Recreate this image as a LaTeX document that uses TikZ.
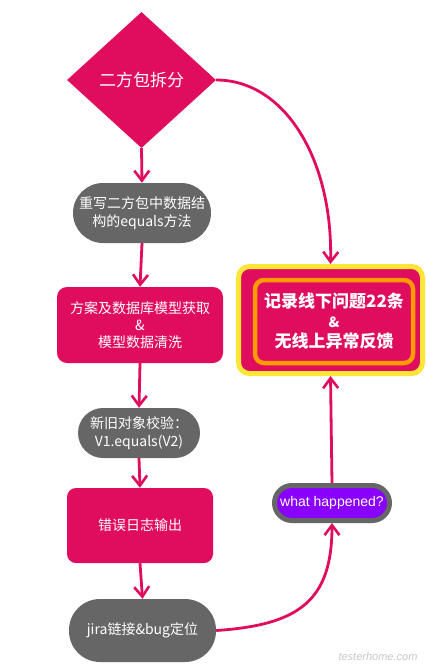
\documentclass[tikz,border=0pt]{standalone}
\usepackage{fontspec}
\setmainfont{Noto Sans CJK SC}
\newfontfamily\latinf{Liberation Sans}
\usetikzlibrary{arrows.meta,shapes.geometric}
\definecolor{mag}{HTML}{E00D5F}
\definecolor{grayc}{HTML}{666666}
\definecolor{purp}{HTML}{8A00FF}
\definecolor{yel}{HTML}{FFE535}
\definecolor{orng}{HTML}{FF9A00}
\tikzset{
  txt/.style={text=white, align=center, inner sep=0pt},
  graynode/.style={txt, fill=grayc, font=\fontsize{14}{18}\selectfont},
  pinknode/.style={txt, fill=mag, font=\fontsize{14}{17}\selectfont},
  flow/.style={draw=mag, line width=2.8pt, -{Straight Barb[length=10pt,width=15pt,line width=2.6pt]}},
}
\begin{document}
\begin{tikzpicture}[x=1pt,y=-1pt]
\useasboundingbox[fill=white] (0,0) rectangle (426,672);

\node[diamond, fill=mag, txt, aspect=1.1, minimum width=149pt, minimum height=136pt,
  font=\fontsize{17}{20}\selectfont] (d) at (141.5,80) {二方包拆分};

\node[graynode, minimum width=138pt, minimum height=60pt, rounded corners=30pt] (n1) at (142,213)
  {重写二方包中数据结\\构的equals方法};

\node[pinknode, minimum width=166pt, minimum height=76pt, rounded corners=10pt] (n2) at (140,325)
  {方案及数据库模型获取\\\&\\模型数据清洗};

\node[graynode, minimum width=122pt, minimum height=50pt, rounded corners=25pt] (n3) at (139,433)
  {新旧对象校验：\\ V1.equals(V2)};

\node[pinknode, minimum width=146pt, minimum height=75pt, rounded corners=9pt] (n4) at (140,525.5)
  {错误日志输出};

\node[graynode, minimum width=147pt, minimum height=63pt, rounded corners=31pt] (n5) at (142.5,630.5)
  {jira链接\&bug定位};

\node[fill=mag, draw=yel, line width=5pt, rounded corners=11pt, minimum width=184pt, minimum height=107pt] (rb) at (330.5,320) {};
\node[draw=orng, line width=4.5pt, rounded corners=9pt, minimum width=158pt, minimum height=83pt,
  txt, font=\bfseries\fontsize{17}{20}\selectfont] (rt) at (334,321.5)
  {记录线下问题22条\\{\fontsize{14}{20}\selectfont\&}\\无线上异常反馈};

\node[fill=purp, draw=grayc, line width=5pt, rounded corners=17.5pt, minimum width=115pt, minimum height=35pt,
  txt, font=\latinf\fontsize{14}{16}\selectfont] (wh) at (332,503) {what happened?};

\node[text=black!22, font=\latinf\fontsize{11}{13}\selectfont\itshape, inner sep=0pt] (wm) at (378,657) {testerhome.com};

\draw[flow] (d.south) -- (n1.north);
\draw[flow] (n1.south) -- (n2.north);
\draw[flow] (n2.south) -- (n3.north);
\draw[flow] (n3.south) -- (n4.north);
\draw[flow] (n4.south) -- (n5.north);
\draw[flow] (d.east) .. controls (285,80) and (333,160) .. (rb.north);
\draw[flow] (n5.east) .. controls (300,625) and (332,600) .. (wh.south);
\draw[flow] (wh.north) -- (rb.south);
\end{tikzpicture}
\end{document}
